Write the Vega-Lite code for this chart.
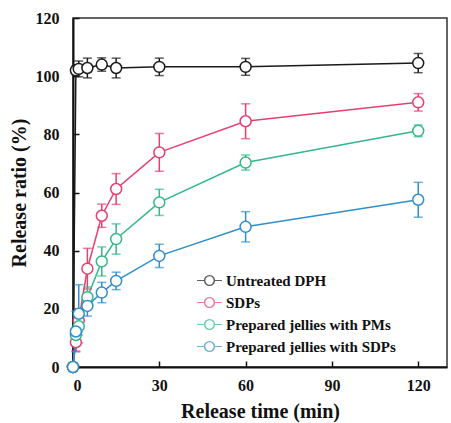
{
  "$schema": "https://vega.github.io/schema/vega-lite/v6.json",
  "autosize": "none",
  "padding": {"left": 73, "top": 18, "right": 4, "bottom": 56},
  "width": 374,
  "height": 349,
  "background": "white",
  "config": {
    "view": {"stroke": "#333333", "strokeWidth": 1.5},
    "font": "Liberation Serif",
    "axis": {
      "labelFont": "Liberation Serif", "labelFontWeight": "bold", "labelFontSize": 16, "labelColor": "#111",
      "titleFont": "Liberation Serif", "titleFontWeight": "bold", "titleFontSize": 20, "titleColor": "#111",
      "domainColor": "#111", "domainWidth": 2, "tickColor": "#111", "tickWidth": 1.5, "tickSize": -6, "grid": false
    }
  },
  "data": {"values": [
    {"time": 0, "ratio": 0, "sd": 0, "group": "Untreated DPH"},
    {"time": 1, "ratio": 102, "sd": 1.5, "group": "Untreated DPH"},
    {"time": 2, "ratio": 102.5, "sd": 2.7, "group": "Untreated DPH"},
    {"time": 5, "ratio": 102.8, "sd": 3.4, "group": "Untreated DPH"},
    {"time": 10, "ratio": 104, "sd": 2.3, "group": "Untreated DPH"},
    {"time": 15, "ratio": 102.8, "sd": 3.4, "group": "Untreated DPH"},
    {"time": 30, "ratio": 103.2, "sd": 3, "group": "Untreated DPH"},
    {"time": 60, "ratio": 103.2, "sd": 2.9, "group": "Untreated DPH"},
    {"time": 120, "ratio": 104.5, "sd": 3.3, "group": "Untreated DPH"},
    {"time": 0, "ratio": 0, "sd": 0, "group": "SDPs"},
    {"time": 1, "ratio": 8.5, "sd": 3, "group": "SDPs"},
    {"time": 2, "ratio": 16, "sd": 4, "group": "SDPs"},
    {"time": 5, "ratio": 33.8, "sd": 7, "group": "SDPs"},
    {"time": 10, "ratio": 52, "sd": 4, "group": "SDPs"},
    {"time": 15, "ratio": 61.2, "sd": 5.3, "group": "SDPs"},
    {"time": 30, "ratio": 73.8, "sd": 6.5, "group": "SDPs"},
    {"time": 60, "ratio": 84.5, "sd": 6, "group": "SDPs"},
    {"time": 120, "ratio": 91, "sd": 3, "group": "SDPs"},
    {"time": 0, "ratio": 0, "sd": 0, "group": "Prepared jellies with PMs"},
    {"time": 1, "ratio": 11, "sd": 2, "group": "Prepared jellies with PMs"},
    {"time": 2, "ratio": 14, "sd": 3, "group": "Prepared jellies with PMs"},
    {"time": 5, "ratio": 24, "sd": 3.5, "group": "Prepared jellies with PMs"},
    {"time": 10, "ratio": 36.3, "sd": 5, "group": "Prepared jellies with PMs"},
    {"time": 15, "ratio": 44, "sd": 5.2, "group": "Prepared jellies with PMs"},
    {"time": 30, "ratio": 56.6, "sd": 4.5, "group": "Prepared jellies with PMs"},
    {"time": 60, "ratio": 70.3, "sd": 2.6, "group": "Prepared jellies with PMs"},
    {"time": 120, "ratio": 81.2, "sd": 2, "group": "Prepared jellies with PMs"},
    {"time": 0, "ratio": 0, "sd": 0, "group": "Prepared jellies with SDPs"},
    {"time": 1, "ratio": 12.2, "sd": 7, "group": "Prepared jellies with SDPs"},
    {"time": 2, "ratio": 18.3, "sd": 10, "group": "Prepared jellies with SDPs"},
    {"time": 5, "ratio": 21, "sd": 3.5, "group": "Prepared jellies with SDPs"},
    {"time": 10, "ratio": 25.6, "sd": 3.5, "group": "Prepared jellies with SDPs"},
    {"time": 15, "ratio": 29.6, "sd": 3, "group": "Prepared jellies with SDPs"},
    {"time": 30, "ratio": 38.2, "sd": 4, "group": "Prepared jellies with SDPs"},
    {"time": 60, "ratio": 48.2, "sd": 5.2, "group": "Prepared jellies with SDPs"},
    {"time": 120, "ratio": 57.5, "sd": 6, "group": "Prepared jellies with SDPs"}
  ]},
  "encoding": {
    "x": {"field": "time", "type": "quantitative",
      "scale": {"domain": [0, 130], "nice": false, "zero": false},
      "axis": {"values": [0, 30, 60, 90, 120], "title": "Release time (min)", "labelPadding": 16, "titlePadding": 8}},
    "y": {"field": "ratio", "type": "quantitative",
      "scale": {"domain": [0, 120], "nice": false},
      "axis": {"values": [0, 20, 40, 60, 80, 100, 120], "title": "Release ratio (%)", "labelPadding": 20, "titlePadding": 6}},
    "color": {"field": "group", "type": "nominal",
      "scale": {"domain": ["Untreated DPH", "SDPs", "Prepared jellies with PMs", "Prepared jellies with SDPs"],
                "range": ["#1a1a1a", "#e6406f", "#33b887", "#2f8fcc"]},
      "legend": {"orient": "none", "legendX": 123, "legendY": 249, "title": null,
        "symbolType": "M-1,0L-0.4,0M0.4,0L1,0M-0.4,0A0.4,0.4 0 1,0 0.4,0A0.4,0.4 0 1,0 -0.4,0ZM-0.38,0A0.38,0.38 0 1,1 0.38,0A0.38,0.38 0 1,1 -0.38,0Z",
        "symbolSize": 620, "symbolStrokeWidth": 1.2,
        "labelFont": "Liberation Serif", "labelFontWeight": "bold", "labelFontSize": 15, "labelColor": "#111",
        "rowPadding": -1, "labelOffset": 3, "labelLimit": 300}}
  },
  "layer": [
    {"mark": {"type": "line", "strokeWidth": 1.5, "clip": false}},
    {"mark": {"type": "errorbar", "ticks": {"size": 9, "thickness": 1.5}, "thickness": 1.5, "clip": false},
     "encoding": {"yError": {"field": "sd"}}},
    {"mark": {"type": "point", "shape": "circle", "filled": false, "fill": "white", "size": 120, "strokeWidth": 1.5, "opacity": 1, "clip": false}}
  ]
}
